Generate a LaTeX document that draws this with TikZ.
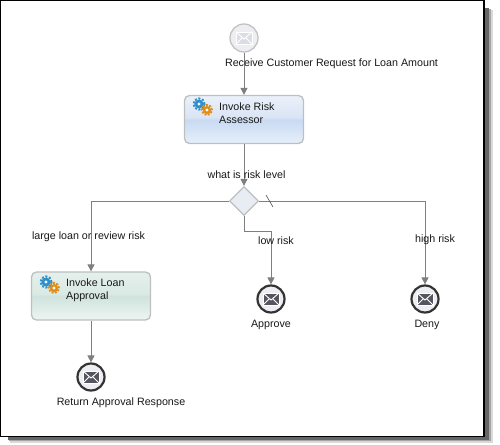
\documentclass[tikz,border=0pt]{standalone}
\usepackage{fontspec}
\setmainfont{Liberation Sans}
\usepackage{tikz}
\usetikzlibrary{arrows.meta,positioning,shapes.geometric}
\definecolor{flowgray}{HTML}{7F7F7F}
\definecolor{rimgray}{HTML}{BCC0C0}
\definecolor{gearblue}{HTML}{2E8FCB}
\definecolor{gearamber}{HTML}{DD8E1C}
\definecolor{gatewayfill}{HTML}{E8ECF3}
\definecolor{eventfill}{HTML}{EDEDF2}
\definecolor{mailgray}{HTML}{55555F}
\definecolor{mailpale}{HTML}{DCDCE4}
\definecolor{riskA}{HTML}{E6EFFB}
\definecolor{riskB}{HTML}{C8DAF2}
\definecolor{riskC}{HTML}{DAE4F4}
\definecolor{riskD}{HTML}{EBF1FA}
\definecolor{loanA}{HTML}{EEF5F3}
\definecolor{loanB}{HTML}{CFE3DD}
\definecolor{loanC}{HTML}{DAE9E4}
\definecolor{loanD}{HTML}{E4F0EC}
\pgfdeclareverticalshading{riskshade}{100bp}{color(0bp)=(riskA); color(25bp)=(riskA); color(50bp)=(riskB); color(52bp)=(riskC); color(75bp)=(riskD); color(100bp)=(riskD)}
\pgfdeclareverticalshading{loanshade}{100bp}{color(0bp)=(loanA); color(25bp)=(loanA); color(50bp)=(loanB); color(52bp)=(loanC); color(75bp)=(loanD); color(100bp)=(loanD)}
\tikzset{
  flow/.style={draw=flowgray,line width=0.9pt,-{Triangle[length=7pt,width=7pt]}},
  plainflow/.style={draw=flowgray,line width=0.9pt},
  taskbox/.style={draw=rimgray,line width=1.3pt,rounded corners=5pt,minimum width=119pt,minimum height=48pt,inner sep=0pt},
  startevent/.style={circle,draw=rimgray,line width=1.2pt,fill=eventfill,minimum size=28pt,inner sep=0pt},
  endevent/.style={circle,draw=black!80,line width=2.2pt,fill=eventfill,minimum size=27pt,inner sep=0pt},
  gatewaybox/.style={diamond,draw=rimgray,line width=1.3pt,fill=gatewayfill,minimum size=29pt,inner sep=0pt,aspect=1},
  caption/.style={font=\fontsize{10.7pt}{13pt}\selectfont,inner sep=0pt,text=black!90},
  tasktext/.style={caption,align=left,anchor=north west},
  envelope/.pic={
    \path[pic actions] (-8,-6) rectangle (8,6);
    \draw[pic actions,fill=none,line width=0.9pt] (-8,-6) -- (0,1) -- (8,-6) (-8,6) -- (-2,0) (8,6) -- (2,0);
  },
  gears/.pic={
    \fill[gearblue] (-4,-3) circle (4.5pt);
    \draw[gearblue,line width=2pt,dash pattern=on 2pt off 1.6pt] (-4,-3) circle (5.6pt);
    \fill[white] (-4,-3) circle (1.7pt);
    \fill[gearamber] (4,3) circle (4pt);
    \draw[gearamber,line width=2pt,dash pattern=on 2pt off 1.4pt] (4,3) circle (5pt);
    \fill[white] (4,3) circle (1.6pt);
  }
}
\begin{document}
\begin{tikzpicture}[x=1pt,y=-1pt]
  \useasboundingbox (0,0) rectangle (500,444);
  % frame with its shadow
  \fill[black!15] (10,10) rectangle (493,443);
  \fill[black!35] (9,9) rectangle (491,441);
  \fill[black!60] (8,8) rectangle (489,439.5);
  \draw[black,fill=white,line width=1.4pt] (0.7,0.7) rectangle (484,436.5);
  % events, tasks, gateway
  \node[startevent] (receive) at (244,38) {};
  \node[taskbox,shading=riskshade] (assessor) at (244,119.5) {};
  \node[gatewaybox] (gateway) at (244,201) {};
  \node[taskbox,shading=loanshade] (approval) at (91,296) {};
  \node[endevent] (response) at (91,377) {};
  \node[endevent] (approve) at (271,299) {};
  \node[endevent] (deny) at (425,299) {};
  \coordinate (lowbend) at (271,231);
  % connectors
  \draw[flow] (receive) -- (assessor);
  \draw[flow] (assessor) -- (gateway);
  \draw[flow] (gateway) -| (approval);
  \draw[plainflow] (gateway) |- (lowbend);
  \draw[flow] (lowbend) -- (approve);
  \draw[flow] (gateway) -| (deny);
  \draw[flow] (approval) -- (response);
  % default marker
  \draw[black!70,line width=0.6pt] (266,195) -- (273,207);
  % icons
  \pic[fill=mailpale,draw=white] at (244,38) {envelope};
  \pic[fill=mailgray,draw=white] at (91,377) {envelope};
  \pic[fill=mailgray,draw=white] at (271,299) {envelope};
  \pic[fill=mailgray,draw=white] at (425,299) {envelope};
  \pic at (203,107) {gears};
  \pic at (50,285) {gears};
  % labels
  \node[caption] (receivetext) at (331.5,63.5) {Receive Customer Request for Loan Amount};
  \node[tasktext] (assessortext) at (219,102.5) {Invoke Risk\\Assessor};
  \node[caption] (leveltext) at (246.5,175) {what is risk level};
  \node[caption] (largetext) at (88.5,236.5) {large loan or review risk};
  \node[caption] (lowtext) at (276,241) {low risk};
  \node[caption] (hightext) at (435,240) {high risk};
  \node[tasktext] (approvaltext) at (66,279) {Invoke Loan\\Approval};
  \node[caption] (approvetext) at (271,325) {Approve};
  \node[caption] (denytext) at (427,325) {Deny};
  \node[caption] (responsetext) at (121,403) {Return Approval Response};
\end{tikzpicture}
\end{document}
